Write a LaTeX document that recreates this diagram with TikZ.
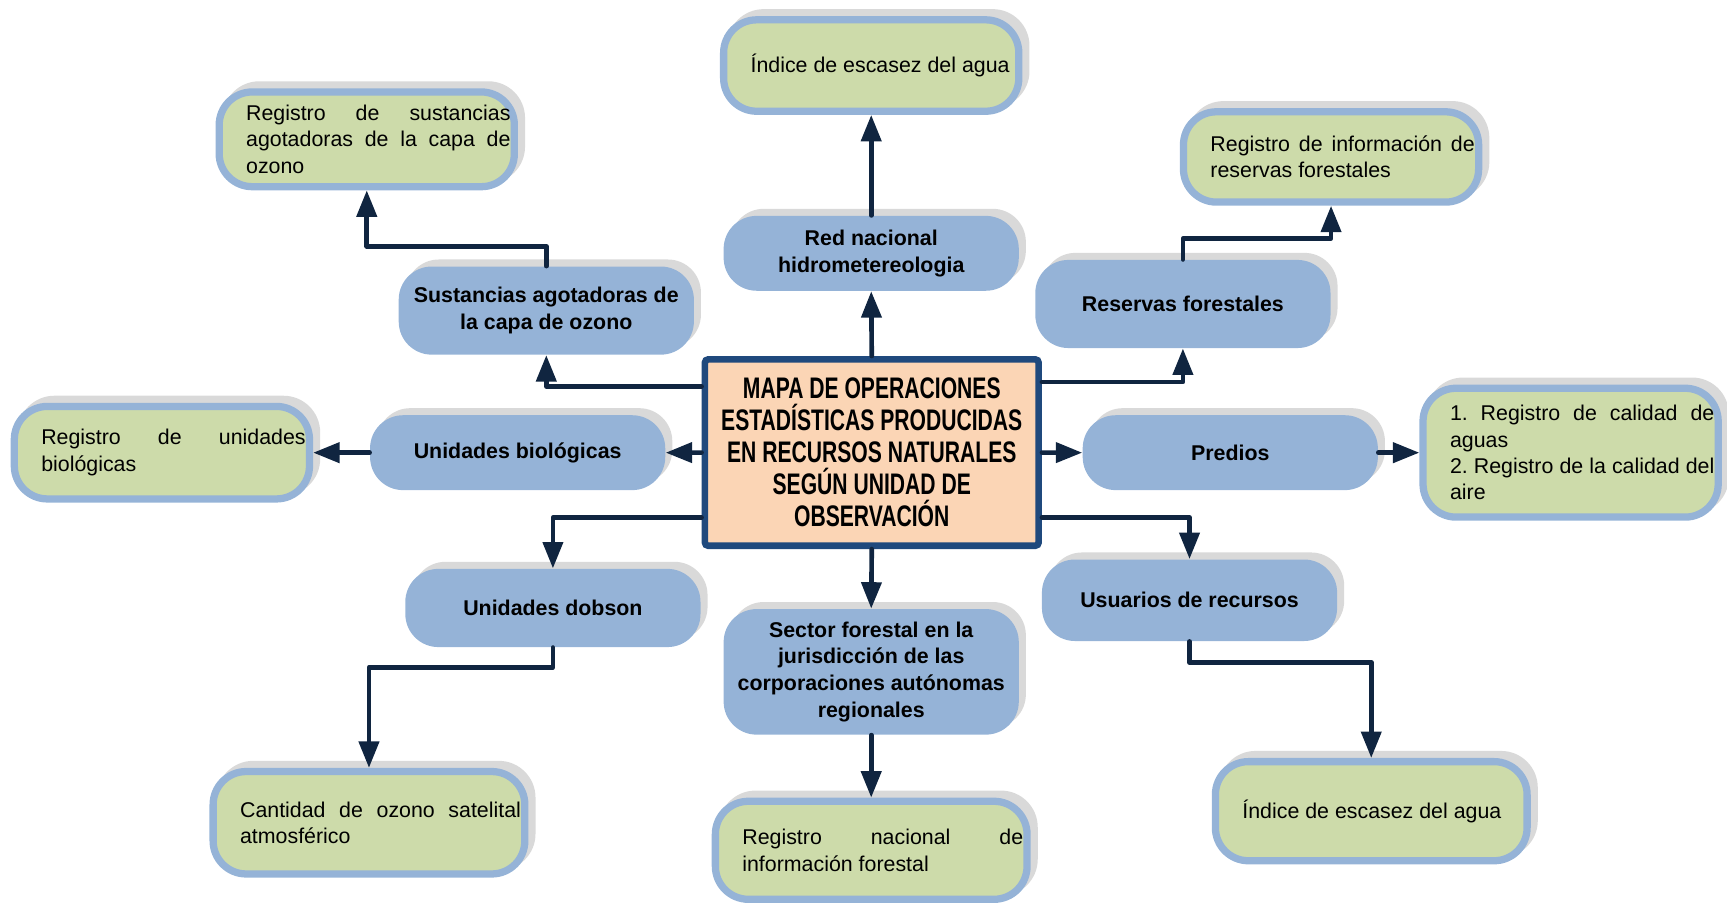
\documentclass[tikz,border=0pt]{standalone}
\usepackage{fontspec}
\setmainfont{Liberation Sans}
\newfontfamily\narrowfont[FakeStretch=0.71]{Liberation Sans}
\usetikzlibrary{arrows.meta,shadows}
\definecolor{opblue}{RGB}{149,179,215}
\definecolor{reggreen}{RGB}{205,219,170}
\definecolor{mainfill}{RGB}{251,213,181}
\definecolor{mainline}{RGB}{31,73,125}
\definecolor{arrcol}{RGB}{16,37,64}
\definecolor{shade}{RGB}{217,217,217}
\frenchspacing
\begin{document}
\begin{tikzpicture}[x=0.5pt,y=-0.5pt,
  ops/.style={fill=opblue, rounded corners=15pt, minimum width=134pt, inner sep=0pt, align=center,
    font=\bfseries\fontsize{9.7}{12.2}\selectfont,
    general shadow={fill=shade, shadow xshift=3.2pt, shadow yshift=3.2pt}},
  reg/.style={fill=reggreen, draw=opblue, line width=3.3pt, rounded corners=15pt, text width=130.5pt,
    inner xsep=1.75pt, inner ysep=0pt, align=justify, font=\fontsize{9.7}{12}\selectfont,
    execute at begin node={\leftskip=10.5pt\hyphenpenalty=10000\tolerance=10000},
    general shadow={fill=shade, draw=shade, shadow xshift=3.2pt, shadow yshift=3.2pt}},
  main/.style={draw=mainline, fill=mainfill, line width=3pt, rounded corners=1.5pt, minimum width=151.5pt,
    minimum height=84.6pt, inner sep=0pt, align=center, font=\narrowfont\bfseries\fontsize{13.5}{14.5}\selectfont},
  arr/.style={draw=arrcol, line width=2.1pt, line cap=round, line join=round, -{Triangle[length=12pt,width=9pt]}}]
\useasboundingbox (0,0) rectangle (1568,822.6);

% centro
\node[main] (ctr) at (791.5,410.9) {MAPA DE OPERACIONES\\ESTADÍSTICAS PRODUCIDAS\\EN RECURSOS NATURALES\\SEGÚN UNIDAD DE\\OBSERVACIÓN};

% unidades de observacion
\node[ops, minimum height=40pt] (sust) at (496,282) {Sustancias agotadoras de\\la capa de ozono};
\node[ops, minimum height=34pt] (red) at (791,230) {Red nacional\\hidrometereologia};
\node[ops, minimum height=40pt] (res) at (1074,276) {Reservas forestales};
\node[ops, minimum height=34pt] (bio) at (470,411) {Unidades biológicas};
\node[ops, minimum height=34pt] (pred) at (1117,411) {Predios};
\node[ops, minimum height=35.5pt] (dob) at (502,552) {Unidades dobson};
\node[ops, minimum height=57pt] (sec) at (791,610) {Sector forestal en la\\jurisdicción de las\\corporaciones autónomas\\regionales};
\node[ops, minimum height=37pt] (usu) at (1080,545) {Usuarios de recursos};

% registros
\node[reg, minimum height=41.5pt] (indA) at (791,59.5) {Índice de escasez del agua};
\node[reg, minimum height=43pt] (regsust) at (333,126.5) {Registro de sustancias\linebreak agotadoras de la capa de ozono};
\node[reg, minimum height=41pt] (regres) at (1208.5,142.5) {Registro de información de reservas forestales};
\node[reg, minimum height=42pt] (regbio) at (147,411) {Registro de unidades biológicas};
\node[reg, minimum height=58.5pt] (regcal) at (1426,411) {1. Registro de calidad de aguas\par 2. Registro de la calidad del aire};
\node[reg, minimum height=46.5pt, text width=138pt] (ozono) at (335,747) {Cantidad de ozono satelital atmosférico};
\node[reg, minimum height=44.5pt, text width=138pt] (regfor) at (791,772) {Registro nacional de información forestal};
\node[reg, minimum height=45pt, text width=138pt] (indB) at (1245,736.5) {Índice de escasez del agua};

% conectores
\draw[arr] (ctr.north) -- (red.south);
\draw[arr] (red.north) -- (indA.south);
\draw[arr] ([yshift=30pt]ctr.west) -| (sust.south);
\draw[arr] (sust.north) -- ++(0,-18) -| (regsust.south);
\draw[arr] ([yshift=32pt]ctr.east) -| (res.south);
\draw[arr] (res.north) -- ++(0,-19) -| (regres.south);
\draw[arr] (ctr.west) -- (bio.east);
\draw[arr] (bio.west) -- (regbio.east);
\draw[arr] (ctr.east) -- (pred.west);
\draw[arr] (pred.east) -- (regcal.west);
\draw[arr] ([yshift=-29.5pt]ctr.west) -| (dob.north);
\draw[arr] (dob.south) -- ++(0,18) -| (ozono.north);
\draw[arr] (ctr.south) -- (sec.north);
\draw[arr] (sec.south) -- (regfor.north);
\draw[arr] ([yshift=-29.5pt]ctr.east) -| (usu.north);
\draw[arr] (usu.south) -- ++(0,19) -| (indB.north);
\end{tikzpicture}
\end{document}
